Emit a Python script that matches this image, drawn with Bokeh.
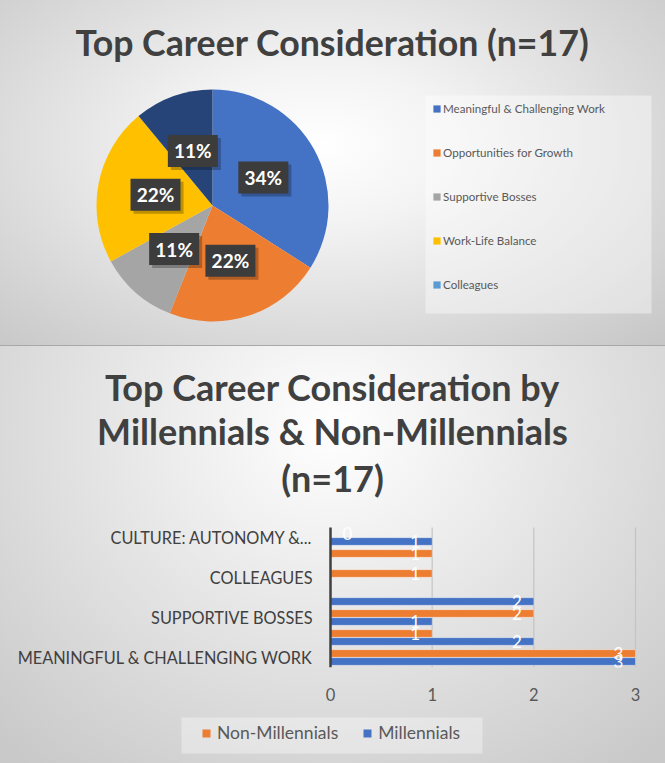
import numpy as np
from bokeh.plotting import figure
from bokeh.layouts import column
from bokeh.models import (Range1d, Legend, LegendItem, ColumnDataSource, Label,
                          FixedTicker, BoxAnnotation)
from bokeh.core.properties import value
from bokeh.embed import file_html
from bokeh.resources import INLINE

# ---------------- data ----------------
pie_title = "Top Career Consideration (n=17)"
pie_labels = ["Meaningful & Challenging Work", "Opportunities for Growth",
              "Supportive Bosses", "Work-Life Balance", "Colleagues"]
pie_pct = [34, 22, 11, 22, 11]

bar_title = ["Top Career Consideration by", "Millennials & Non-Millennials", "(n=17)"]
bar_categories = ["MEANINGFUL & CHALLENGING WORK", "OPPORTUNITIES FOR GROWTH",
                  "SUPPORTIVE BOSSES", "WORK-LIFE BALANCE", "COLLEAGUES",
                  "OTHER", "CULTURE: AUTONOMY &..."]
shown_categories = [0, 2, 4, 6]          # every other label is shown on the axis
series_names = ["Non-Millennials", "Millennials"]
millennials = [3, 2, 1, 2, None, None, 1]
non_millennials = [3, 1, 2, None, 1, 1, 0]
x_ticks = [0, 1, 2, 3]

# ---------------- style ----------------
FONT = "Lato"
pie_colors = ["#4472C4", "#ED7D31", "#A5A5A5", "#FFC000", "#264478"]
pie_legend_colors = ["#4472C4", "#ED7D31", "#A5A5A5", "#FFC000", "#5B9BD5"]
BLUE, ORANGE = "#4472C4", "#ED7D31"
TXT = "#404040"
TXT2 = "#595959"

W = 665
H1, H2, H3 = 345, 362, 56
BOTTOM_BG = {"background": "radial-gradient(ellipse 480px 430px at 332px 430px, #ffffff 0%, #f3f3f3 22%, #c9c9c9 100%)",
             "background-attachment": "fixed"}

# ================= Pie chart =================
p1 = figure(width=W, height=H1, x_range=Range1d(0, W), y_range=Range1d(0, H1),
            output_backend="svg", toolbar_location=None, min_border=0,
            x_axis_location=None, y_axis_location=None)
p1.grid.visible = False
p1.outline_line_color = None
p1.background_fill_color = None
p1.border_fill_color = None
p1.styles = {"background": "radial-gradient(ellipse farthest-corner at 48% 42%, #ffffff 0%, #f3f3f3 28%, #c6c6c6 100%)"}

cx, cy, R = 212, H1 - 205, 116
vals = np.array(pie_pct, dtype=float)
frac_end = np.cumsum(vals) / vals.sum()
frac_start = frac_end - vals / vals.sum()
th_s = frac_start * 2 * np.pi
th_e = frac_end * 2 * np.pi
th_m = (th_s + th_e) / 2
pie_src = ColumnDataSource(dict(
    start=np.pi / 2 - th_e, end=np.pi / 2 - th_s, color=pie_colors,
    lx=cx + 0.5 * R * np.sin(th_m), ly=cy + 0.5 * R * np.cos(th_m),
    sx=cx + 0.5 * R * np.sin(th_m) + 3, sy=cy + 0.5 * R * np.cos(th_m) - 3,
    txt=[f"{v}%" for v in pie_pct], name=pie_labels))
p1.wedge(x=cx, y=cy, radius=R, start_angle="start", end_angle="end",
         fill_color="color", line_color=None, source=pie_src)
p1.rect(x="sx", y="sy", width=50, height=32, fill_color="black", fill_alpha=0.25,
        line_color=None, source=pie_src)
p1.rect(x="lx", y="ly", width=50, height=32, fill_color="#3c3c3c",
        line_color=None, source=pie_src)
p1.text(x="lx", y="ly", text="txt", text_align="center", text_baseline="middle",
        text_font=value(FONT), text_font_style="bold", text_font_size="19px",
        text_color="white", source=pie_src)

p1.add_layout(Label(x=332, y=H1 - 42, text=pie_title, text_align="center",
                    text_baseline="middle", text_font=FONT,
                    text_font_style="bold", text_font_size="35.7px", text_color=TXT))

# legend box
p1.add_layout(BoxAnnotation(left=425, right=651, bottom=H1 - 313, top=H1 - 95,
                            fill_color="white", fill_alpha=0.4, line_color=None))
leg_src = ColumnDataSource(dict(l=[np.nan] * 5, r=[np.nan] * 5, b=[np.nan] * 5,
                                t=[np.nan] * 5, color=pie_legend_colors))
proxy = p1.quad(left="l", right="r", bottom="b", top="t", fill_color="color",
                line_color=None, source=leg_src)
leg1 = Legend(items=[LegendItem(label=lab, renderers=[proxy], index=i)
                     for i, lab in enumerate(pie_labels)],
              location=(432, H1 - 294), orientation="vertical",
              label_text_font=FONT, label_text_font_size="11.6px",
              label_text_color=TXT2, glyph_width=9, glyph_height=9,
              label_height=20, label_standoff=2, spacing=24, padding=0, margin=0,
              border_line_color=None, background_fill_alpha=0)
p1.add_layout(leg1, "center")

# ================= Bar chart =================
# frame spans the full width; value 0 sits at 330 px, value 3 at 635 px
X0_PX, X3_PX = 330, 635
ppu = (X3_PX - X0_PX) / 3.0
FRAME_H = 322                      # px from top of this figure to frame bottom
ROW = 20                           # px per category
n = len(bar_categories)
pos = np.arange(1, n + 1)
p2 = figure(width=W, height=H2,
            x_range=Range1d(-X0_PX / ppu, 3 + (W - X3_PX) / ppu),
            y_range=Range1d(0.5, 0.5 + FRAME_H / ROW),
            output_backend="svg", toolbar_location=None,
            min_border_left=0, min_border_right=0, min_border_top=0,
            min_border_bottom=H2 - FRAME_H, y_axis_location=None)
p2.outline_line_color = None
p2.background_fill_color = None
p2.border_fill_color = None
p2.grid.visible = False
p2.styles = dict(BOTTOM_BG, **{"box-shadow": "inset 0 1px 0 #a8a8a8"})

# grid lines
gx = [t for t in x_ticks if t > 0]
p2.segment(x0=gx, x1=gx, y0=0.5, y1=n + 0.5, line_color="#c4c4c4", line_width=1.2)

m_vals = [np.nan if v is None else v for v in millennials]
nm_vals = [np.nan if v is None else v for v in non_millennials]
src_m = ColumnDataSource(dict(y=pos - 0.2, v=m_vals))
src_nm = ColumnDataSource(dict(y=pos + 0.2, v=nm_vals))
p2.hbar(y="y", right="v", left=0, height=0.38, fill_color=ORANGE,
        line_color="white", line_alpha=0.35, source=src_nm)
p2.hbar(y="y", right="v", left=0, height=0.38, fill_color=BLUE,
        line_color="white", line_alpha=0.35, source=src_m)
# category axis line
p2.segment(x0=[0], x1=[0], y0=0.5, y1=n + 0.5, line_color="#404040", line_width=2.5)

lab_x, lab_y, lab_t, lab_off = [], [], [], []
for series, dy in ((millennials, -0.2), (non_millennials, 0.2)):
    for i, v in enumerate(series):
        if v is None:
            continue
        lab_x.append(v)
        lab_y.append(pos[i] + dy)
        lab_t.append(str(v))
        lab_off.append(-17 if v > 0 else 17)
p2.text(x="x", y="y", text="t", x_offset="o", text_align="center",
        text_baseline="middle", text_font=value(FONT), text_font_size="17px",
        text_color="white",
        source=ColumnDataSource(dict(x=lab_x, y=lab_y, t=lab_t, o=lab_off)))

# category labels (every other one, as on the original axis)
p2.text(x=[0] * len(shown_categories), y=[int(pos[i]) for i in shown_categories],
        text=[bar_categories[i] for i in shown_categories], x_offset=-18,
        text_align="right", text_baseline="middle", text_font=value(FONT),
        text_font_size="16.3px", text_color=TXT)

p2.xaxis.ticker = FixedTicker(ticks=x_ticks)
p2.xaxis.axis_line_color = None
p2.xaxis.major_tick_line_color = None
p2.xaxis.minor_tick_line_color = None
p2.xaxis.major_label_text_font = FONT
p2.xaxis.major_label_text_font_size = "16.5px"
p2.xaxis.major_label_text_color = TXT2
p2.xaxis.major_label_standoff = 14

for txt, yy in zip(bar_title, (281, 237, 190)):
    p2.add_layout(Label(x=332, y=yy, x_units="screen", y_units="screen", text=txt,
                        text_align="center", text_baseline="middle",
                        text_font=FONT, text_font_style="bold",
                        text_font_size="36px", text_color=TXT))

# ================= Bar chart legend strip =================
p3 = figure(width=W, height=H3, x_range=Range1d(0, W), y_range=Range1d(0, H3),
            output_backend="svg", toolbar_location=None, min_border=0,
            x_axis_location=None, y_axis_location=None)
p3.grid.visible = False
p3.outline_line_color = None
p3.background_fill_color = None
p3.border_fill_color = None
p3.styles = dict(BOTTOM_BG)
p3.add_layout(BoxAnnotation(left=181, right=482, bottom=H3 - 46, top=H3 - 10,
                            fill_color="white", fill_alpha=0.35, line_color=None))
nan2 = dict(l=[np.nan], r=[np.nan], b=[np.nan], t=[np.nan])
r_nm = p3.quad(left="l", right="r", bottom="b", top="t", fill_color=ORANGE,
               line_color=None, source=ColumnDataSource(nan2))
r_m = p3.quad(left="l", right="r", bottom="b", top="t", fill_color=BLUE,
              line_color=None, source=ColumnDataSource(dict(nan2)))
leg2 = Legend(items=[LegendItem(label=series_names[0], renderers=[r_nm]),
                     LegendItem(label=series_names[1], renderers=[r_m])],
              location=(201, 20), orientation="horizontal",
              label_text_font=FONT, label_text_font_size="17.5px",
              label_text_color=TXT2, glyph_width=10, glyph_height=10,
              label_height=20, label_standoff=6, spacing=24, padding=8, margin=0,
              border_line_color=None, background_fill_alpha=0)
p3.add_layout(leg2, "center")

layout = column(p1, p2, p3, spacing=0)
open("out.html", "w").write(file_html(layout, INLINE))
